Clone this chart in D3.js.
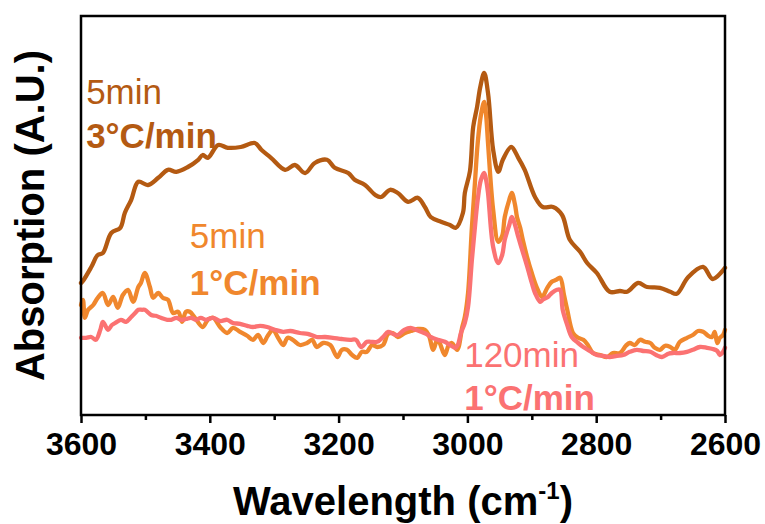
<!DOCTYPE html>
<html>
<head>
<meta charset="utf-8">
<script src="https://cdn.jsdelivr.net/npm/d3@7/dist/d3.min.js"></script>
<style>
  body { margin: 0; background: #fff; }
  text { font-family: "Liberation Sans", Arial, sans-serif; }
</style>
</head>
<body>
<div id="chart"></div>
<script>

// x ticks (wavenumber, cm-1)
var majorTicks = [3600, 3400, 3200, 3000, 2800, 2600];
var minorTicks = [3500, 3300, 3100, 2900, 2700];

// 5 min, 3 C/min
var wn3C5 = [3600,3597,3584,3574,3566,3553,3539,3532,3522,3511,3496,3480,3465,3452,3434,3418,3411,3403,3387,3372,
    3352,3330,3320,3305,3283,3268,3252,3237,3218,3206,3185,3175,3159,3143,3134,3120,3108,3092,3077,3066,
    3057,3041,3027,3018,3007,3004,2996,2991,2985,2980,2974,2968,2960,2952,2945,2932,2921,2911,2895,2883,
    2867,2853,2841,2825,2814,2799,2779,2763,2752,2735,2721,2701,2685,2675,2657,2634,2619,2600];
var abs3C5 = [.330,.335,.370,.400,.405,.455,.468,.505,.538,.583,.575,.593,.613,.608,.620,.638,.650,.643,.675,.668,
    .670,.680,.663,.643,.613,.625,.605,.630,.638,.618,.605,.588,.575,.550,.545,.563,.555,.533,.543,.520,
    .495,.483,.475,.468,.505,.555,.610,.720,.770,.820,.855,.805,.663,.608,.638,.670,.643,.613,.545,.520,
    .520,.500,.438,.408,.380,.355,.308,.310,.308,.330,.320,.318,.308,.303,.345,.370,.340,.368];

// 5 min, 1 C/min
var wn1C5 = [3600,3597,3594,3589,3581,3574,3566,3558,3550,3543,3535,3527,3519,3511,3507,3501,3493,3488,3480,3473,
    3465,3457,3449,3443,3437,3431,3423,3411,3403,3395,3384,3373,3364,3353,3342,3333,3325,3317,3310,3302,
    3294,3286,3279,3271,3260,3249,3241,3234,3224,3213,3202,3195,3187,3179,3171,3164,3156,3148,3140,3131,
    3123,3116,3108,3097,3088,3077,3066,3060,3053,3047,3043,3035,3029,3024,3016,3008,3004,2999,2993,2988,
    2984,2979,2974,2971,2968,2960,2952,2946,2942,2935,2931,2926,2923,2918,2914,2907,2900,2892,2884,2876,
    2869,2862,2856,2850,2845,2836,2828,2820,2813,2805,2794,2783,2774,2763,2754,2748,2740,2732,2724,2716,
    2709,2701,2693,2685,2678,2670,2659,2650,2642,2634,2626,2620,2616,2612,2608,2603,2600];
var abs1C5 = [.275,.288,.243,.263,.275,.293,.305,.275,.295,.268,.300,.313,.283,.320,.330,.355,.320,.293,.305,.293,
    .288,.255,.258,.233,.258,.258,.243,.220,.238,.243,.220,.205,.218,.208,.198,.188,.200,.180,.198,.213,
    .193,.175,.193,.188,.175,.180,.188,.170,.180,.175,.145,.163,.163,.150,.143,.158,.158,.175,.170,.175,
    .203,.205,.195,.205,.210,.215,.213,.200,.163,.188,.180,.150,.175,.180,.163,.220,.245,.305,.470,.588,
    .680,.750,.783,.750,.680,.513,.433,.448,.495,.538,.555,.525,.495,.468,.438,.393,.355,.318,.295,.318,
    .333,.338,.343,.300,.263,.205,.193,.188,.175,.155,.150,.145,.155,.155,.173,.180,.175,.188,.183,.180,
    .168,.163,.173,.170,.163,.183,.193,.200,.210,.208,.198,.195,.208,.180,.193,.200,.213];

// 120 min, 1 C/min
var wn1C120 = [3600,3592,3584,3577,3570,3566,3558,3552,3547,3538,3530,3522,3516,3511,3505,3501,3491,3484,3476,3466,
    3460,3452,3445,3437,3429,3421,3414,3406,3395,3384,3373,3364,3353,3342,3333,3322,3311,3299,3286,3275,
    3260,3248,3234,3221,3209,3195,3182,3173,3165,3156,3150,3140,3131,3123,3116,3108,3098,3088,3080,3072,
    3064,3057,3046,3035,3027,3019,3015,3010,3004,2999,2993,2988,2984,2979,2974,2971,2968,2960,2952,2946,
    2942,2935,2931,2926,2921,2915,2907,2900,2895,2887,2883,2875,2869,2861,2856,2852,2845,2838,2828,2820,
    2810,2799,2789,2779,2768,2758,2748,2737,2727,2716,2707,2698,2688,2681,2670,2659,2650,2639,2628,2619,
    2612,2608,2603,2600];
var abs1C120 = [.193,.193,.195,.188,.213,.233,.213,.225,.230,.238,.233,.245,.255,.263,.263,.263,.250,.248,.243,.238,
    .238,.243,.238,.240,.243,.238,.243,.238,.243,.235,.238,.230,.228,.223,.220,.223,.220,.213,.208,.210,
    .205,.203,.195,.195,.193,.190,.188,.188,.170,.183,.183,.183,.195,.208,.203,.200,.213,.218,.213,.208,
    .203,.195,.188,.183,.175,.168,.175,.205,.230,.270,.388,.475,.538,.588,.605,.588,.555,.420,.380,.400,
    .438,.475,.495,.475,.445,.413,.370,.330,.305,.283,.288,.295,.305,.313,.313,.263,.225,.195,.180,.170,
    .160,.150,.148,.145,.148,.150,.158,.163,.160,.158,.150,.145,.153,.155,.155,.158,.163,.170,.168,.165,
    .160,.150,.158,.168];

var brown = "#B45A12", orange = "#F0872D", pink = "#FB7272";

var W = 765, H = 524;
var margin = {left: 81, right: 40, top: 16, bottom: 109};

var svg = d3.select("#chart").append("svg")
    .attr("width", W)
    .attr("height", H);

var x = d3.scaleLinear().domain([3600, 2600]).range([margin.left, W - margin.right]);
var y = d3.scaleLinear().domain([0, 1]).range([H - margin.bottom, 15]);

var line = d3.line()
    .x(function(d) { return x(d[0]); })
    .y(function(d) { return y(d[1]); })
    .curve(d3.curveCatmullRom.alpha(0.5));

var series = [
    {wn: wn3C5, abs: abs3C5, color: brown},
    {wn: wn1C5, abs: abs1C5, color: orange},
    {wn: wn1C120, abs: abs1C120, color: pink}
];

svg.selectAll("path.spec")
    .data(series)
    .enter().append("path")
    .attr("class", "spec")
    .attr("d", function(s) { return line(d3.zip(s.wn, s.abs)); })
    .attr("fill", "none")
    .attr("stroke", function(s) { return s.color; })
    .attr("stroke-width", 4.3)
    .attr("stroke-linejoin", "round")
    .attr("stroke-linecap", "round");

// frame
var y0 = H - margin.bottom;
svg.append("rect")
    .attr("x", margin.left)
    .attr("y", margin.top)
    .attr("width", W - margin.right - margin.left)
    .attr("height", y0 - margin.top)
    .attr("fill", "none")
    .attr("stroke", "#000")
    .attr("stroke-width", 2.5);

// minor ticks
var minorAxis = svg.append("g")
    .attr("transform", "translate(0," + y0 + ")")
    .call(d3.axisBottom(x).tickValues(minorTicks).tickSize(5).tickFormat(""));
minorAxis.select(".domain").remove();
minorAxis.selectAll("line").attr("stroke-width", 2.5);

// major ticks
var xAxis = svg.append("g")
    .attr("transform", "translate(0," + y0 + ")")
    .call(d3.axisBottom(x).tickValues(majorTicks).tickSize(8).tickPadding(9).tickFormat(d3.format("d")));
xAxis.select(".domain").remove();
xAxis.selectAll("line").attr("stroke-width", 2.5);
xAxis.selectAll("text")
    .attr("fill", "#000")
    .style("font-family", "'Liberation Sans', Arial, sans-serif")
    .style("font-size", "32px")
    .style("font-weight", "bold");

// axis titles
var xTitle = svg.append("text")
    .attr("x", (x(3600) + x(2600)) / 2)
    .attr("y", 515)
    .attr("text-anchor", "middle")
    .style("font-size", "40px")
    .style("font-weight", "bold")
    .text("Wavelength (cm");
xTitle.append("tspan").attr("dy", -16).style("font-size", "24px").text("-1");
xTitle.append("tspan").attr("dy", 16).text(")");

svg.append("text")
    .attr("transform", "translate(44," + ((margin.top + y0) / 2) + ") rotate(-90)")
    .attr("text-anchor", "middle")
    .style("font-size", "40px")
    .style("font-weight", "bold")
    .text("Absorption (A.U.)");

// annotations
var notes = [
    {lines: ["5min", "3°C/min"], color: brown, wn: 3592, top: .778, bottom: .668},
    {lines: ["5min", "1°C/min"], color: orange, wn: 3431, top: .418, bottom: .300},
    {lines: ["120min", "1°C/min"], color: pink, wn: 3005, top: .120, bottom: .013}
];
notes.forEach(function(n) {
    svg.append("text")
        .attr("x", x(n.wn)).attr("y", y(n.top))
        .attr("fill", n.color)
        .style("font-size", "35px")
        .text(n.lines[0]);
    svg.append("text")
        .attr("x", x(n.wn)).attr("y", y(n.bottom))
        .attr("fill", n.color)
        .style("font-size", "35px")
        .style("font-weight", "bold")
        .text(n.lines[1]);
});

</script>
</body>
</html>
